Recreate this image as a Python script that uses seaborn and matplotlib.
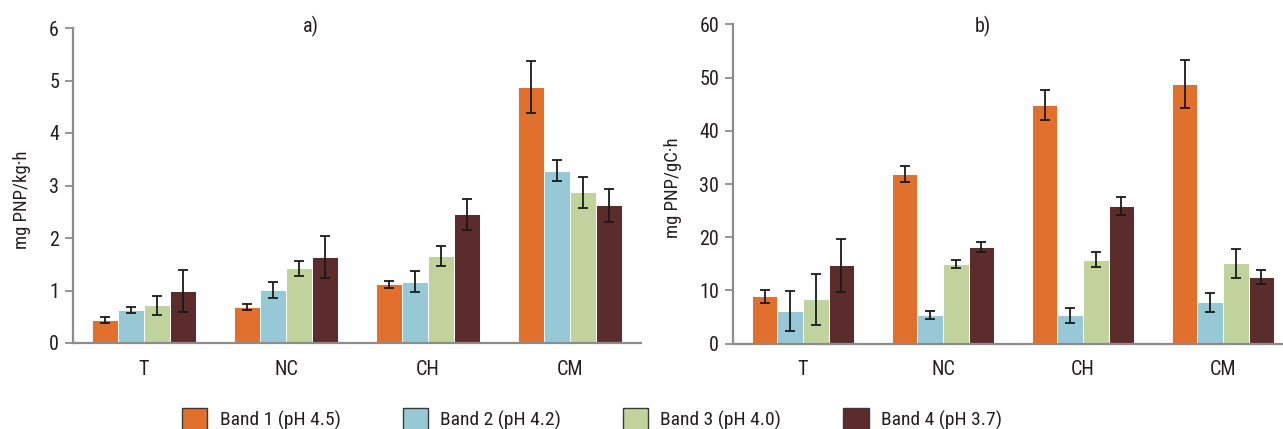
import matplotlib
matplotlib.use("Agg")
from matplotlib import pyplot as plt
from matplotlib.patches import Patch
import seaborn as sns
import pandas as pd
import numpy as np

sites = ["T", "NC", "CH", "CM"]
bands = ["Band 1 (pH 4.5)", "Band 2 (pH 4.2)", "Band 3 (pH 4.0)", "Band 4 (pH 3.7)"]
colors = ["#E0702C", "#96C8D6", "#C0D39C", "#5C2C2C"]

# a) mg PNP/kg·h
a_band1 = [0.44, 0.69, 1.12, 4.88]
a_band2 = [0.63, 1.01, 1.17, 3.28]
a_band3 = [0.72, 1.42, 1.65, 2.87]
a_band4 = [0.99, 1.64, 2.45, 2.62]
a_err1 = [0.06, 0.06, 0.07, 0.50]
a_err2 = [0.05, 0.15, 0.20, 0.20]
a_err3 = [0.18, 0.15, 0.19, 0.30]
a_err4 = [0.40, 0.40, 0.29, 0.32]

# b) mg PNP/gC·h
b_band1 = [8.9, 31.8, 44.8, 48.7]
b_band2 = [6.1, 5.3, 5.3, 7.8]
b_band3 = [8.35, 15.0, 15.8, 15.1]
b_band4 = [14.7, 18.2, 25.9, 12.5]
b_err1 = [1.2, 1.5, 2.85, 4.5]
b_err2 = [3.8, 0.75, 1.5, 1.8]
b_err3 = [4.8, 0.8, 1.45, 2.75]
b_err4 = [5.0, 0.9, 1.7, 1.3]

sns.set_style("white")
plt.rcParams["font.family"] = ["Roboto Condensed", "DejaVu Sans"]
txt = "#231F20"
grey = "#8C8C8C"
fs = 14.5


def long_table(vals):
    rows = []
    for b, v in zip(bands, vals):
        for s, x in zip(sites, v):
            rows.append({"site": s, "band": b, "value": x})
    return pd.DataFrame(rows)


def panel(ax, vals, errs, ymax, step):
    df = long_table(vals)
    sns.barplot(data=df, x="site", y="value", hue="band", hue_order=bands,
                palette=colors, saturation=1, width=0.73, errorbar=None, ax=ax,
                edgecolor="white", linewidth=0.7, legend=False)
    for cont, v, e in zip(ax.containers, vals, errs):
        xs = [p.get_x() + p.get_width() / 2 for p in cont]
        ax.errorbar(xs, v, yerr=e, fmt="none", ecolor="#1A1A1A",
                    elinewidth=1.3, capsize=3.6, capthick=1.3, zorder=5)
    ax.set_xlim(-0.5, 3.5)
    ax.set_ylim(0, ymax)
    ax.set_yticks(np.arange(0, ymax + step / 2, step))
    ax.set_xlabel("")
    ax.set_ylabel("")
    for sp in ["top", "right"]:
        ax.spines[sp].set_visible(False)
    for sp in ["left", "bottom"]:
        ax.spines[sp].set_color(grey)
        ax.spines[sp].set_linewidth(1.6)
    ax.set_xticks([-0.5, 0.5, 1.5, 2.5, 3.5], minor=True)
    ax.tick_params(axis="x", which="major", length=0, pad=12,
                   labelsize=fs, labelcolor=txt)
    ax.tick_params(axis="x", which="minor", length=7, width=1.6,
                   color=grey, direction="out")
    ax.tick_params(axis="y", length=6, width=1.3, color=grey,
                   direction="out", pad=4, labelsize=fs, labelcolor=txt)
    ax.tick_params(left=True, bottom=True)


fig = plt.figure(figsize=(12.83, 4.29), dpi=100)
ax1 = fig.add_axes([73 / 1283, 86 / 429, 568 / 1283, 315 / 429])
ax2 = fig.add_axes([733 / 1283, 85.3 / 429, 560 / 1283, 319.4 / 429])

panel(ax1, [a_band1, a_band2, a_band3, a_band4],
      [a_err1, a_err2, a_err3, a_err4], 6, 1)
panel(ax2, [b_band1, b_band2, b_band3, b_band4],
      [b_err1, b_err2, b_err3, b_err4], 60, 10)

fig.text(22 / 1283, 1 - 200 / 429, "mg PNP/kg·h", rotation=90,
         ha="center", va="center", fontsize=13.5, color=txt)
fig.text(673 / 1283, 1 - 188 / 429, "mg PNP/gC·h", rotation=90,
         ha="center", va="center", fontsize=13.5, color=txt)
fig.text(311 / 1283, 1 - 26 / 429, "a)", ha="center", va="center",
         fontsize=fs, color=txt)
fig.text(983 / 1283, 1 - 26 / 429, "b)", ha="center", va="center",
         fontsize=fs, color=txt)

handles = [Patch(facecolor=c, edgecolor="#3A3A3A", linewidth=1.0) for c in colors]
fig.legend(handles, bands, loc="center", bbox_to_anchor=(592 / 1283, 10 / 429),
           ncol=4, frameon=False, fontsize=14, handlelength=1.3,
           handleheight=1.3, handletextpad=0.62, columnspacing=3.2,
           labelcolor=txt)

fig.savefig("out.png", dpi=100)
plt.close(fig)
